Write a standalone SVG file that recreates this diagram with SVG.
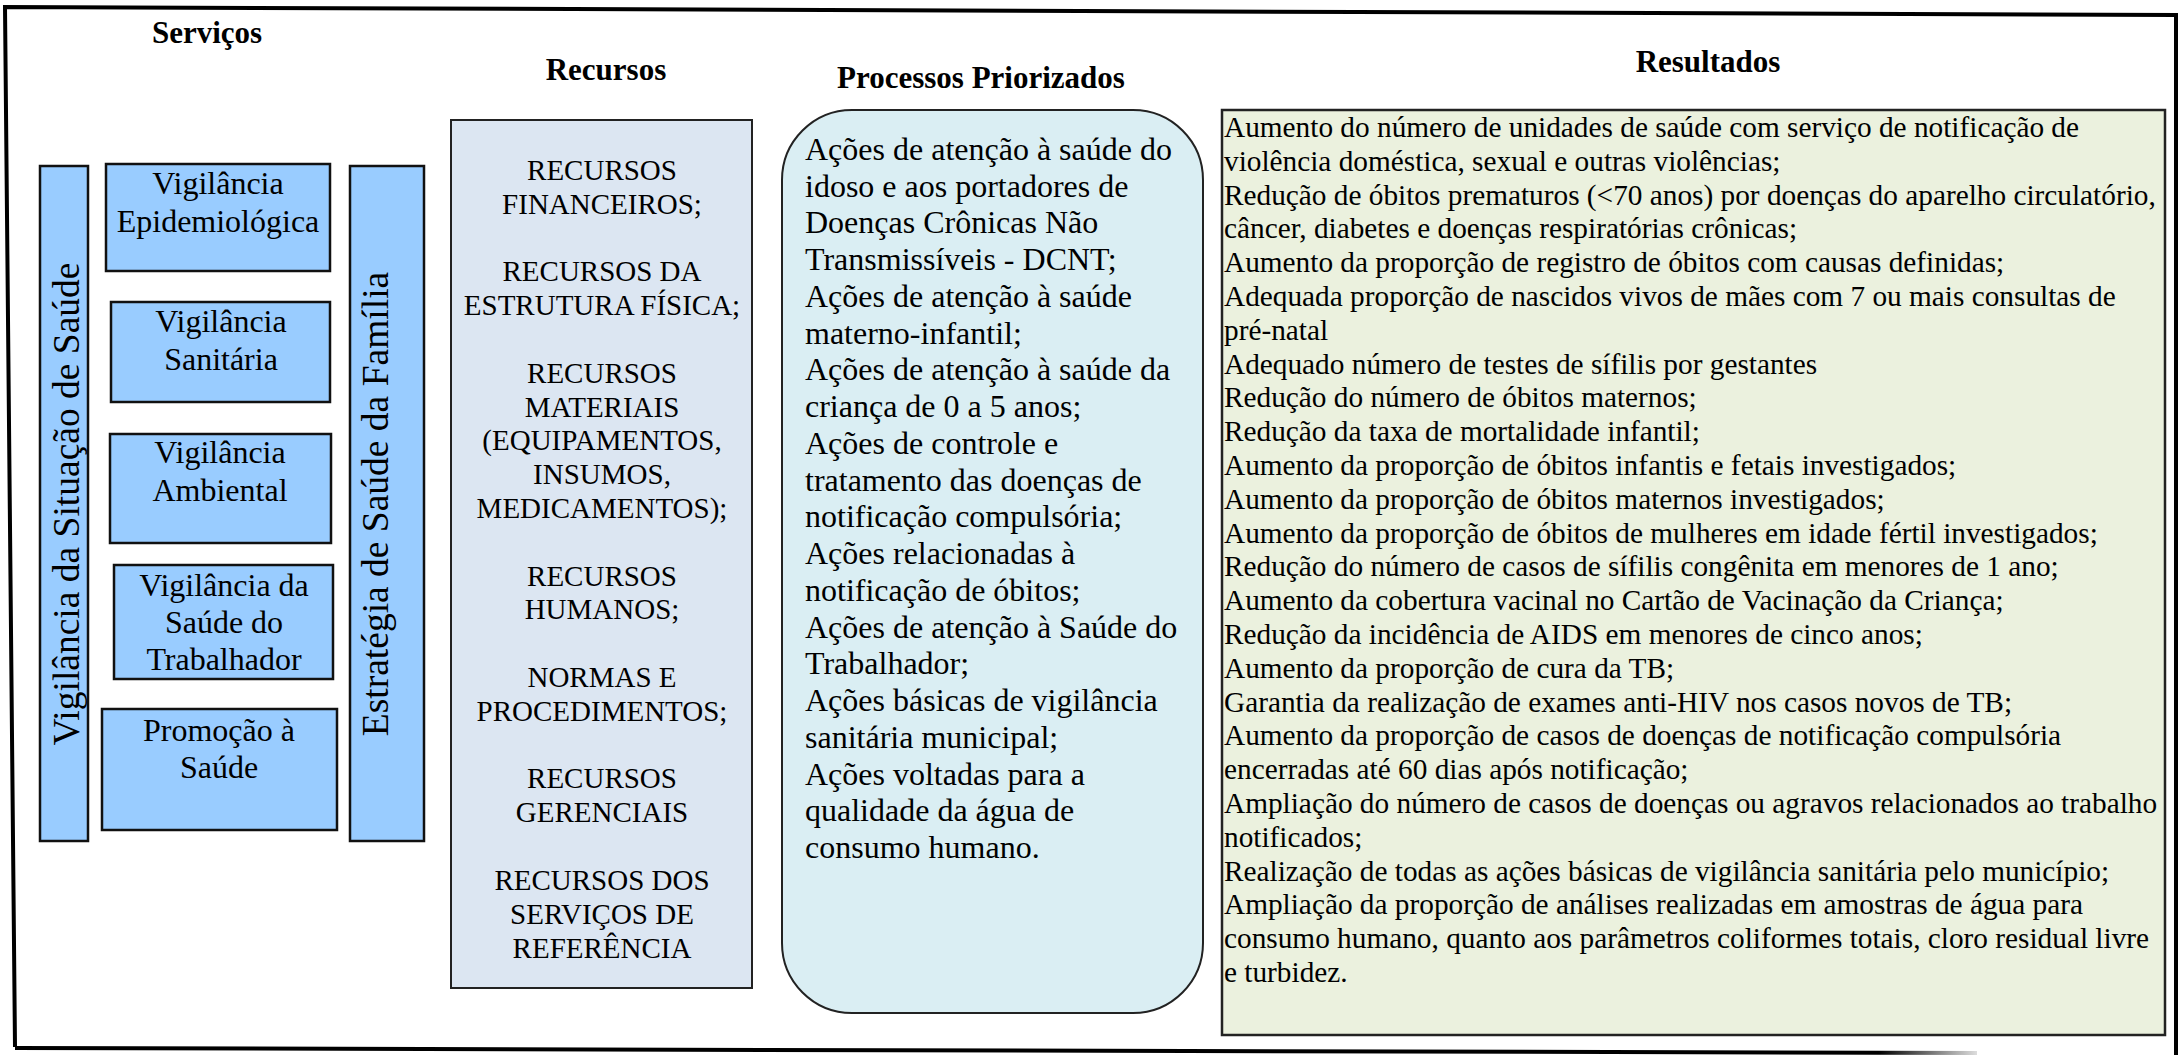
<svg xmlns="http://www.w3.org/2000/svg" width="2178" height="1055" viewBox="0 0 2178 1055">
<defs>
<linearGradient id="fade" gradientUnits="userSpaceOnUse" x1="15" y1="0" x2="1977" y2="0">
<stop offset="0" stop-color="#000"/>
<stop offset="0.95" stop-color="#000"/>
<stop offset="1" stop-color="#ddd"/>
</linearGradient>
</defs>
<style>
text{font-family:"Liberation Serif","Times New Roman",serif;fill:#000}
.title{font-weight:bold;font-size:31px;text-anchor:middle}
.svc{fill:#99CCFF;stroke:#111;stroke-width:2.5}
.svct{font-size:32px;text-anchor:middle}
.bart{font-size:37.5px;text-anchor:middle}
.rec{fill:#DCE6F2;stroke:#222;stroke-width:2}
.rect{font-size:29px;text-anchor:middle}
.proc{fill:#DAEEF3;stroke:#222;stroke-width:2}
.proct{font-size:32px}
.res{fill:#EBF1DE;stroke:#222;stroke-width:2.5}
.rest{font-size:29.3px}
.frame{fill:none;stroke:#000;stroke-width:4}
</style>
<rect width="2178" height="1055" fill="#fff"/>
<g id="frame">
<path class="frame" d="M15,1047 L5,7 L2176,15 L2176,1055"/>
<path d="M15,1048 L1977,1053" fill="none" stroke="url(#fade)" stroke-width="4"/>
</g>
<g id="titles">
<text class="title" x="207" y="43">Serviços</text>
<text class="title" x="606" y="80">Recursos</text>
<text class="title" x="981" y="88">Processos Priorizados</text>
<text class="title" x="1708" y="72">Resultados</text>
</g>
<g id="vigilancia-situacao">
<rect class="svc" x="40" y="166" width="48" height="675"/>
<text class="bart" transform="translate(79,504) rotate(-90)">Vigilância da Situação de Saúde</text>
</g>
<g id="estrategia-familia">
<rect class="svc" x="350" y="166" width="74" height="675"/>
<text class="bart" transform="translate(388,504) rotate(-90)">Estratégia de Saúde da Família</text>
</g>
<g id="vig-epidemiologica">
<rect class="svc" x="106" y="164" width="224" height="107"/>
<text class="svct" x="218" y="194">Vigilância</text>
<text class="svct" x="218" y="232">Epidemiológica</text>
</g>
<g id="vig-sanitaria">
<rect class="svc" x="111" y="302" width="219" height="100"/>
<text class="svct" x="221" y="332">Vigilância</text>
<text class="svct" x="221" y="370">Sanitária</text>
</g>
<g id="vig-ambiental">
<rect class="svc" x="110" y="434" width="221" height="109"/>
<text class="svct" x="220" y="463">Vigilância</text>
<text class="svct" x="220" y="501">Ambiental</text>
</g>
<g id="vig-trabalhador">
<rect class="svc" x="114" y="565" width="219" height="114"/>
<text class="svct" x="224" y="596">Vigilância da</text>
<text class="svct" x="224" y="633">Saúde do</text>
<text class="svct" x="224" y="670">Trabalhador</text>
</g>
<g id="promocao-saude">
<rect class="svc" x="102" y="709" width="235" height="121"/>
<text class="svct" x="219" y="741">Promoção à</text>
<text class="svct" x="219" y="778">Saúde</text>
</g>
<g id="recursos">
<rect class="rec" x="451" y="120" width="301" height="868"/>
<text class="rect" x="602" y="180">RECURSOS</text>
<text class="rect" x="602" y="214">FINANCEIROS;</text>
<text class="rect" x="602" y="281">RECURSOS DA</text>
<text class="rect" x="602" y="315">ESTRUTURA FÍSICA;</text>
<text class="rect" x="602" y="383">RECURSOS</text>
<text class="rect" x="602" y="417">MATERIAIS</text>
<text class="rect" x="602" y="450">(EQUIPAMENTOS,</text>
<text class="rect" x="602" y="484">INSUMOS,</text>
<text class="rect" x="602" y="518">MEDICAMENTOS);</text>
<text class="rect" x="602" y="586">RECURSOS</text>
<text class="rect" x="602" y="619">HUMANOS;</text>
<text class="rect" x="602" y="687">NORMAS E</text>
<text class="rect" x="602" y="721">PROCEDIMENTOS;</text>
<text class="rect" x="602" y="788">RECURSOS</text>
<text class="rect" x="602" y="822">GERENCIAIS</text>
<text class="rect" x="602" y="890">RECURSOS DOS</text>
<text class="rect" x="602" y="924">SERVIÇOS DE</text>
<text class="rect" x="602" y="958">REFERÊNCIA</text>
</g>
<g id="processos">
<rect class="proc" x="782" y="110" width="421" height="903" rx="70" ry="70"/>
<text class="proct" x="805" y="160">Ações de atenção à saúde do</text>
<text class="proct" x="805" y="197">idoso e aos portadores de</text>
<text class="proct" x="805" y="233">Doenças Crônicas Não</text>
<text class="proct" x="805" y="270">Transmissíveis - DCNT;</text>
<text class="proct" x="805" y="307">Ações de atenção à saúde</text>
<text class="proct" x="805" y="344">materno-infantil;</text>
<text class="proct" x="805" y="380">Ações de atenção à saúde da</text>
<text class="proct" x="805" y="417">criança de 0 a 5 anos;</text>
<text class="proct" x="805" y="454">Ações de controle e</text>
<text class="proct" x="805" y="491">tratamento das doenças de</text>
<text class="proct" x="805" y="527">notificação compulsória;</text>
<text class="proct" x="805" y="564">Ações relacionadas à</text>
<text class="proct" x="805" y="601">notificação de óbitos;</text>
<text class="proct" x="805" y="638">Ações de atenção à Saúde do</text>
<text class="proct" x="805" y="674">Trabalhador;</text>
<text class="proct" x="805" y="711">Ações básicas de vigilância</text>
<text class="proct" x="805" y="748">sanitária municipal;</text>
<text class="proct" x="805" y="785">Ações voltadas para a</text>
<text class="proct" x="805" y="821">qualidade da água de</text>
<text class="proct" x="805" y="858">consumo humano.</text>
</g>
<g id="resultados">
<rect class="res" x="1222" y="110" width="943" height="925"/>
<text class="rest" x="1224" y="137">Aumento do número de unidades de saúde com serviço de notificação de</text>
<text class="rest" x="1224" y="171">violência doméstica, sexual e outras violências;</text>
<text class="rest" x="1224" y="205">Redução de óbitos prematuros (&lt;70 anos) por doenças do aparelho circulatório,</text>
<text class="rest" x="1224" y="238">câncer, diabetes e doenças respiratórias crônicas;</text>
<text class="rest" x="1224" y="272">Aumento da proporção de registro de óbitos com causas definidas;</text>
<text class="rest" x="1224" y="306">Adequada proporção de nascidos vivos de mães com 7 ou mais consultas de</text>
<text class="rest" x="1224" y="340">pré-natal</text>
<text class="rest" x="1224" y="374">Adequado número de testes de sífilis por gestantes</text>
<text class="rest" x="1224" y="407">Redução do número de óbitos maternos;</text>
<text class="rest" x="1224" y="441">Redução da taxa de mortalidade infantil;</text>
<text class="rest" x="1224" y="475">Aumento da proporção de óbitos infantis e fetais investigados;</text>
<text class="rest" x="1224" y="509">Aumento da proporção de óbitos maternos investigados;</text>
<text class="rest" x="1224" y="543">Aumento da proporção de óbitos de mulheres em idade fértil investigados;</text>
<text class="rest" x="1224" y="576">Redução do número de casos de sífilis congênita em menores de 1 ano;</text>
<text class="rest" x="1224" y="610">Aumento da cobertura vacinal no Cartão de Vacinação da Criança;</text>
<text class="rest" x="1224" y="644">Redução da incidência de AIDS em menores de cinco anos;</text>
<text class="rest" x="1224" y="678">Aumento da proporção de cura da TB;</text>
<text class="rest" x="1224" y="712">Garantia da realização de exames anti-HIV nos casos novos de TB;</text>
<text class="rest" x="1224" y="745">Aumento da proporção de casos de doenças de notificação compulsória</text>
<text class="rest" x="1224" y="779">encerradas até 60 dias após notificação;</text>
<text class="rest" x="1224" y="813">Ampliação do número de casos de doenças ou agravos relacionados ao trabalho</text>
<text class="rest" x="1224" y="847">notificados;</text>
<text class="rest" x="1224" y="881">Realização de todas as ações básicas de vigilância sanitária pelo município;</text>
<text class="rest" x="1224" y="914">Ampliação da proporção de análises realizadas em amostras de água para</text>
<text class="rest" x="1224" y="948">consumo humano, quanto aos parâmetros coliformes totais, cloro residual livre</text>
<text class="rest" x="1224" y="982">e turbidez.</text>
</g>
<g id="connectors"/>
</svg>
